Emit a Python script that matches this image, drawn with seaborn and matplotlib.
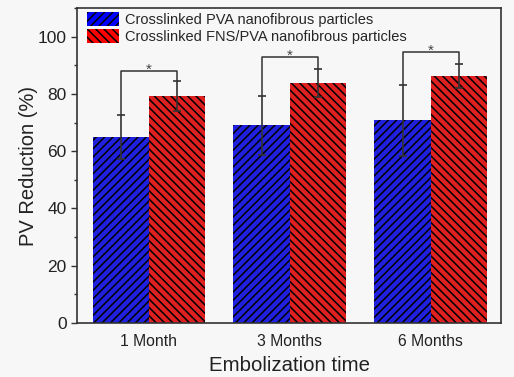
import matplotlib
matplotlib.use('Agg')
import matplotlib.pyplot as plt
import matplotlib.ticker as mtick
from matplotlib.patches import Patch
import pandas as pd
import seaborn as sns

sns.set_style('ticks')
plt.rcParams['font.family'] = ['Liberation Sans', 'DejaVu Sans']
plt.rcParams['hatch.linewidth'] = 1.1

times = ["1 Month", "3 Months", "6 Months"]
groups = ["Crosslinked PVA nanofibrous particles",
          "Crosslinked FNS/PVA nanofibrous particles"]
pva_mean = [65.0, 69.0, 70.8]
pva_err = [7.8, 10.2, 12.4]
fns_mean = [79.3, 83.8, 86.3]
fns_err = [5.2, 4.8, 4.3]
bracket_y = [88.0, 93.0, 94.5]

df = pd.DataFrame({
    "time": times * 2,
    "group": [groups[0]] * 3 + [groups[1]] * 3,
    "value": pva_mean + fns_mean,
})

colors = ["#0000ff", "#ff0000"]
hatches = ["////", "\\\\\\\\"]
bg = '#f7f7f7'

fig = plt.figure(figsize=(5.14, 3.77), dpi=100)
fig.set_facecolor(bg)
ax = fig.add_axes([0.150, 0.143, 0.825, 0.836])
ax.set_facecolor(bg)

sns.barplot(data=df, x="time", y="value", hue="group", palette=colors,
            width=0.8, gap=0, errorbar=None, ax=ax, legend=False)

bars = list(ax.containers)
for i, cont in enumerate(bars):
    for p in cont:
        p.set_hatch(hatches[i])
        p.set_edgecolor('black')
        p.set_linewidth(0)

# error bars and significance brackets
centers = []
for i, cont in enumerate(bars):
    xs = [p.get_x() + p.get_width() / 2 for p in cont]
    centers.append(xs)
    means = pva_mean if i == 0 else fns_mean
    errs = pva_err if i == 0 else fns_err
    ax.errorbar(xs, means, yerr=errs, fmt='none', ecolor='#333333',
                elinewidth=1.2, capsize=3, capthick=1.2)

for j in range(3):
    x0, x1 = centers[0][j], centers[1][j]
    top0 = pva_mean[j] + pva_err[j]
    top1 = fns_mean[j] + fns_err[j]
    by = bracket_y[j]
    ax.plot([x0, x0, x1, x1], [top0, by, by, top1], color='#333333', lw=1.1)
    ax.text((x0 + x1) / 2, by - 1.0, '*', ha='center', va='baseline',
            fontsize=11, color='#444444')

handles = [Patch(facecolor=colors[i], edgecolor='black', linewidth=0,
                 hatch=hatches[i], label=groups[i]) for i in range(2)]
ax.legend(handles=handles, loc='upper left', bbox_to_anchor=(0.014, 1.0),
          frameon=False, fontsize=10.5,
          handlelength=2.2, handleheight=1.1, handletextpad=0.35,
          labelspacing=0.1, borderaxespad=0.1, borderpad=0.2)

ax.set_ylim(0, 110)
ax.set_xlim(-0.51, 2.5)
ax.yaxis.set_major_locator(mtick.MultipleLocator(20))
ax.yaxis.set_minor_locator(mtick.MultipleLocator(10))
ax.tick_params(axis='y', labelsize=12.5, length=4, width=1, colors='#333333',
               labelcolor='#222222')
ax.tick_params(axis='y', which='minor', length=2.5, width=1, colors='#333333')
ax.tick_params(axis='x', length=0, labelsize=11.3, pad=8, labelcolor='#222222')
for s in ax.spines.values():
    s.set_color('#333333')
    s.set_linewidth(1.2)

ax.set_xlabel("Embolization time", fontsize=14.7, color='#222222', labelpad=5)
ax.set_ylabel("PV Reduction (%)", fontsize=14.5, color='#222222', labelpad=0)

fig.savefig('out.png', dpi=100, facecolor=bg)
